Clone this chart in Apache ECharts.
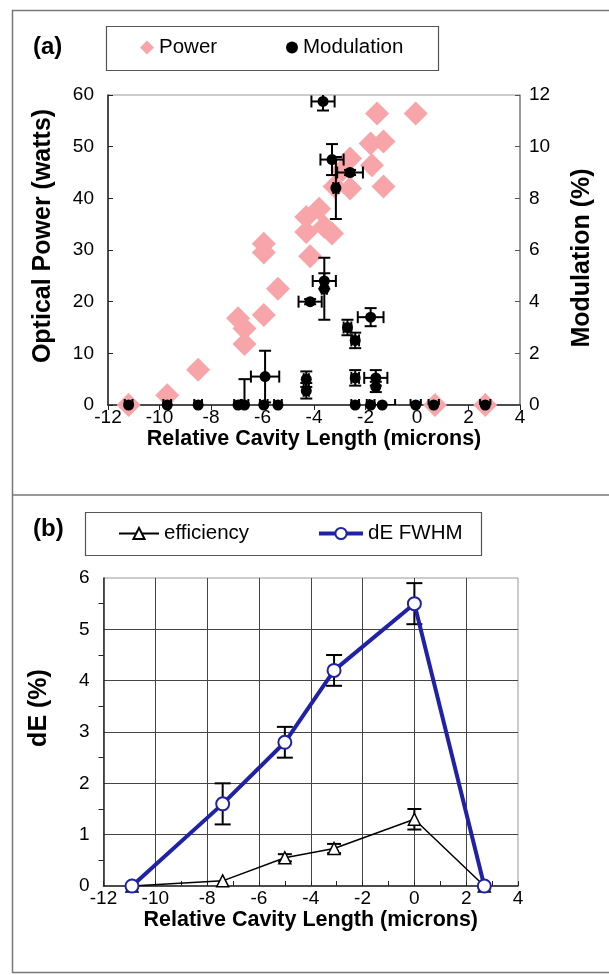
<!DOCTYPE html>
<html>
<head>
<meta charset="utf-8">
<script src="https://cdn.jsdelivr.net/npm/echarts@6/dist/echarts.min.js"></script>
<style>
  html, body { margin: 0; padding: 0; background: #fff; }
  #chart { width: 609px; height: 975px; }
</style>
</head>
<body>
<div id="chart"></div>
<script>
// ---- panel (a) ----
const powerX = [-11.2, -9.7, -8.5, -6.95, -6.7, -6.7, -5.95, -5.95, -5.95, -5.4, -4.15, -4.3, -4.3, -3.8,
  -3.6, -3.3, -3.2, -2.9, -2.6, -2.6, -1.8, -1.3, -1.55, -1.75, -1.3, -0.05, 0.7, 2.65]
const powerWatts = [0, 1.9, 6.8, 16.8, 14.8, 11.8, 17.4, 31.2, 29.5, 22.5, 28.8, 36.4, 33.5, 38.0,
  34.5, 33.2, 42.3, 45.5, 47.7, 41.9, 50.6, 51.0, 56.4, 46.4, 42.3, 56.4, 0, 0]

const modX = [-11.2, -9.7, -8.5, -6.95, -6.7, -5.95, -5.9, -5.4, -4.3, -4.3, -4.15, -3.65, -3.6, -3.6,
  -3.3, -3.15, -2.6, -2.7, -2.4, -2.4, -2.4, -1.8, -1.6, -1.6, -1.8, -1.35, -0.05, 0.65, 2.65]
const modPct = [0, 0, 0, 0, 0, 0, 1.1, 0, 1.0, 0.55, 4.0, 11.75, 4.8, 4.5,
  9.5, 8.4, 9.0, 3.0, 2.5, 1.05, 0, 3.4, 1.05, 0.7, 0, 0, 0, 0, 0]
const modXErr = [0.15, 0.15, 0.15, 0.15, 0.15, 0.15, 0.55, 0.15, 0.1, 0.1, 0.45, 0.45, 0.45, 0.1,
  0.45, 0.1, 0.5, 0.15, 0.15, 0.15, 0.15, 0.5, 0.45, 0.1, 0.15, 0.5, 0.2, 0.2, 0.2]
const modYErr = [0, 0, 0, 0, 1.0, 0, 1.0, 0, 0.3, 0.3, 0.1, 0.35, 0.3, 1.2,
  0.6, 1.2, 0.1, 0.3, 0.3, 0.3, 0, 0.35, 0.3, 0.2, 0, 0, 0, 0, 0]

// ---- panel (b) ----
const cavityB = [-10.9, -7.4, -5.0, -3.1, 0, 2.7]
const efficiency = [0, 0.1, 0.55, 0.73, 1.3, 0]
const efficiencyErr = [0, 0, 0.07, 0.09, 0.2, 0]
const dEFwhm = [0, 1.6, 2.8, 4.2, 5.5, 0]
const dEFwhmErr = [0, 0.4, 0.3, 0.3, 0.4, 0]

const SANS = "'Liberation Sans', Arial, sans-serif"
const BLUE = '#1f22a6'
const PINK = '#f8a5aa'

function zip() {
  const arrs = Array.from(arguments)
  return arrs[0].map((_, i) => arrs.map(a => a[i]))
}

// error bars: value = [x, y, xerr, yerr]
function errorBarItem(cap, width) {
  return function (params, api) {
    const x = api.value(0), y = api.value(1), dx = api.value(2), dy = api.value(3)
    const c = api.coord([x, y])
    const style = { stroke: '#000', lineWidth: width }
    const children = []
    if (dy > 0) {
      const hi = api.coord([x, y + dy])[1], lo = api.coord([x, y - dy])[1]
      children.push({ type: 'line', shape: { x1: c[0], y1: hi, x2: c[0], y2: lo }, style })
      children.push({ type: 'line', shape: { x1: c[0] - cap, y1: hi, x2: c[0] + cap, y2: hi }, style })
      children.push({ type: 'line', shape: { x1: c[0] - cap, y1: lo, x2: c[0] + cap, y2: lo }, style })
    }
    if (dx > 0) {
      const l = api.coord([x - dx, y])[0], r = api.coord([x + dx, y])[0]
      children.push({ type: 'line', shape: { x1: l, y1: c[1], x2: r, y2: c[1] }, style })
      children.push({ type: 'line', shape: { x1: l, y1: c[1] - cap, x2: l, y2: c[1] + cap }, style })
      children.push({ type: 'line', shape: { x1: r, y1: c[1] - cap, x2: r, y2: c[1] + cap }, style })
    }
    return { type: 'group', children }
  }
}

const tickLabel = { color: '#000', fontFamily: SANS, fontSize: 19 }
const axisName = { color: '#000', fontFamily: SANS, fontSize: 21.5, fontWeight: 'bold' }
const vertName = { color: '#000', fontFamily: SANS, fontSize: 25, fontWeight: 'bold' }
const legendText = { fontFamily: SANS, fontSize: 20.5, color: '#000' }

const chart = echarts.init(document.getElementById('chart'), null, { renderer: 'canvas' })
chart.setOption({
  animation: false,
  backgroundColor: '#fff',
  graphic: [
    { type: 'rect', shape: { x: 12.5, y: 10.5, width: 620, height: 962 }, style: { fill: 'none', stroke: '#777', lineWidth: 1.5 } },
    { type: 'line', shape: { x1: 12.5, y1: 495, x2: 620, y2: 495 }, style: { stroke: '#777', lineWidth: 1.5 } },
    { type: 'text', left: 33, top: 35, style: { text: '(a)', font: 'bold 24px ' + SANS, fill: '#000' } },
    { type: 'text', left: 33, top: 517, style: { text: '(b)', font: 'bold 24px ' + SANS, fill: '#000' } },
    { type: 'rect', shape: { x: 106.5, y: 26.5, width: 332, height: 44 }, style: { fill: 'none', stroke: '#555', lineWidth: 1.2 } },
    { type: 'rect', shape: { x: 85.5, y: 512.5, width: 396, height: 43 }, style: { fill: 'none', stroke: '#555', lineWidth: 1.2 } }
  ],
  legend: [
    { data: ['Power'], left: 140, top: 37, padding: 0, itemWidth: 14, itemHeight: 14, textStyle: legendText },
    { data: ['Modulation'], left: 286, top: 37, padding: 0, itemWidth: 12, itemHeight: 12, textStyle: legendText },
    { data: ['efficiency'], left: 118, top: 523, padding: 0, itemWidth: 40, itemHeight: 14, textStyle: legendText,
      lineStyle: { width: 2, color: '#000' } },
    { data: ['dE FWHM'], left: 317, top: 523, padding: 0, itemWidth: 44, itemHeight: 14, textStyle: legendText,
      lineStyle: { width: 4, color: BLUE } }
  ],
  grid: [
    { left: 108, top: 95, width: 412, height: 310, show: true, borderColor: '#999', borderWidth: 1 },
    { left: 103.5, top: 578, width: 414.5, height: 308, show: true, borderColor: '#999', borderWidth: 1 }
  ],
  xAxis: [
    { gridIndex: 0, type: 'value', min: -12, max: 4, interval: 2,
      axisLine: { onZero: false, lineStyle: { color: '#222', width: 1.5 } },
      axisTick: { inside: false, length: 5, lineStyle: { color: '#222' } },
      axisLabel: Object.assign({ margin: 3 }, tickLabel),
      splitLine: { show: false },
      name: 'Relative Cavity Length (microns)', nameLocation: 'middle', nameGap: 22, nameTextStyle: axisName },
    { gridIndex: 1, type: 'value', min: -12, max: 4, interval: 2,
      axisLine: { onZero: false, lineStyle: { color: '#222', width: 1.5 } },
      axisTick: { inside: true, length: 5, lineStyle: { color: '#222' } },
      minorTick: { show: true, splitNumber: 2, length: 5, lineStyle: { color: '#222' } },
      axisLabel: Object.assign({ margin: 3 }, tickLabel),
      splitLine: { show: true, showMinLine: false, showMaxLine: false, lineStyle: { color: '#444', width: 1 } },
      name: 'Relative Cavity Length (microns)', nameLocation: 'middle', nameGap: 20, nameTextStyle: axisName }
  ],
  yAxis: [
    { gridIndex: 0, type: 'value', min: 0, max: 60, interval: 10, position: 'left',
      axisLine: { show: true, onZero: false, lineStyle: { color: '#222', width: 1.5 } },
      axisTick: { show: true, inside: true, length: 5, lineStyle: { color: '#222' } },
      axisLabel: Object.assign({ margin: 14 }, tickLabel),
      splitLine: { show: false },
      name: 'Optical Power (watts)', nameLocation: 'middle', nameRotate: 90, nameGap: 52,
      nameTextStyle: Object.assign({ padding: [0, 0, 0, 28] }, vertName) },
    { gridIndex: 0, type: 'value', min: 0, max: 12, interval: 2, position: 'right',
      axisLine: { show: true, onZero: false, lineStyle: { color: '#888', width: 1.5 } },
      axisTick: { show: true, inside: true, length: 5, lineStyle: { color: '#555' } },
      axisLabel: Object.assign({ margin: 9 }, tickLabel),
      splitLine: { show: false },
      name: 'Modulation (%)', nameLocation: 'middle', nameRotate: 90, nameGap: 50,
      nameTextStyle: Object.assign({ padding: [0, 16, 0, 0] }, vertName) },
    { gridIndex: 1, type: 'value', min: 0, max: 6, interval: 1,
      axisLine: { show: true, onZero: false, lineStyle: { color: '#222', width: 1.5 } },
      axisTick: { show: false },
      minorTick: { show: true, splitNumber: 2, length: 5, lineStyle: { color: '#222' } },
      axisLabel: Object.assign({ margin: 14 }, tickLabel),
      splitLine: { show: true, showMinLine: false, showMaxLine: false, lineStyle: { color: '#444', width: 1 } },
      name: 'dE (%)', nameLocation: 'middle', nameRotate: 90, nameGap: 52,
      nameTextStyle: Object.assign({ padding: [0, 0, 0, 48] }, vertName) }
  ],
  series: [
    { name: 'Power', type: 'scatter', xAxisIndex: 0, yAxisIndex: 0, symbol: 'diamond', symbolSize: 24,
      itemStyle: { color: PINK, opacity: 1 }, z: 2,
      data: zip(powerX, powerWatts) },
    { name: 'modErr', type: 'custom', xAxisIndex: 0, yAxisIndex: 1, clip: true, z: 3,
      renderItem: errorBarItem(6, 2), data: zip(modX, modPct, modXErr, modYErr) },
    { name: 'Modulation', type: 'scatter', xAxisIndex: 0, yAxisIndex: 1, symbol: 'circle', symbolSize: 11,
      itemStyle: { color: '#000', opacity: 1 }, z: 4,
      data: zip(modX, modPct) },
    { name: 'effErr', type: 'custom', xAxisIndex: 1, yAxisIndex: 2, z: 3,
      renderItem: errorBarItem(7, 2), data: zip(cavityB, efficiency, cavityB.map(() => 0), efficiencyErr) },
    { name: 'dEErr', type: 'custom', xAxisIndex: 1, yAxisIndex: 2, z: 3,
      renderItem: errorBarItem(8, 2), data: zip(cavityB, dEFwhm, cavityB.map(() => 0), dEFwhmErr) },
    { name: 'efficiency', type: 'line', xAxisIndex: 1, yAxisIndex: 2, z: 4,
      symbol: 'triangle', symbolSize: 12, showAllSymbol: true,
      lineStyle: { color: '#000', width: 1.5 },
      itemStyle: { color: '#fff', borderColor: '#000', borderWidth: 1.5 },
      data: zip(cavityB, efficiency) },
    { name: 'dE FWHM', type: 'line', xAxisIndex: 1, yAxisIndex: 2, z: 5,
      symbol: 'circle', symbolSize: 13, showAllSymbol: true,
      lineStyle: { color: BLUE, width: 4 },
      itemStyle: { color: '#fff', borderColor: BLUE, borderWidth: 2 },
      data: zip(cavityB, dEFwhm) }
  ]
})
</script>
</body>
</html>
